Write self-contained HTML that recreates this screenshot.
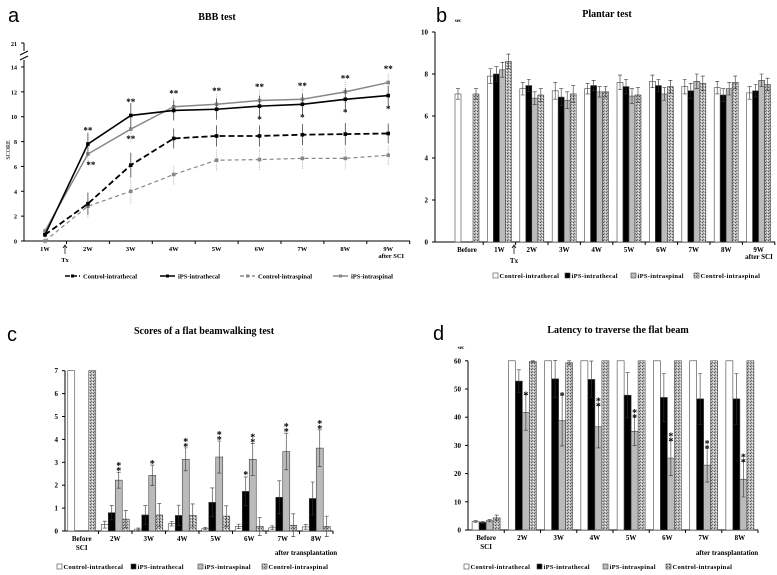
<!DOCTYPE html>
<html><head><meta charset="utf-8"><style>
body{margin:0;background:#fff}
svg{display:block;font-family:"Liberation Serif",serif;font-weight:bold}
.lt{font-family:"Liberation Sans",sans-serif;font-weight:normal}
</style></head><body>
<svg id="fig" width="777" height="575" viewBox="0 0 777 575" xmlns="http://www.w3.org/2000/svg">
<defs>
<pattern id="pat" width="3" height="3" patternUnits="userSpaceOnUse"><rect width="3" height="3" fill="#bbb"/><rect width="1" height="1" fill="#555"/><rect x="2" y="1" width="1" height="1" fill="#eee"/><rect x="1" y="2" width="1" height="1" fill="#777"/></pattern>
</defs>
<g id="pa"></g>
<g id="pb"></g>
<g id="pc"></g>
<g id="pd"></g>
</svg>
<script>
// Panel a data
const aCats = ["1W","2W","3W","4W","5W","6W","7W","8W","9W"];
const aYTicks = [0,2,4,6,8,10,12,14];
const aCtrlTh = [0.5,3.0,6.1,8.25,8.45,8.45,8.55,8.6,8.65];
const aIpsTh = [0.5,7.8,10.1,10.5,10.6,10.85,11.0,11.4,11.7];
const aCtrlSp = [0.0,2.8,4.0,5.35,6.5,6.55,6.65,6.65,6.9];
const aIpsSp = [0.8,7.0,9.0,10.8,11.0,11.3,11.4,12.0,12.75];
const aErr = [0.2,0.9,1.0,0.8,0.85,0.85,0.85,0.9,0.8];
// Panel b data
const bCats = ["Before","1W","2W","3W","4W","5W","6W","7W","8W","9W"];
const bYTicks = [0,2,4,6,8,10];
const bCtrlTh = [7.05,7.9,7.3,7.2,7.3,7.6,7.65,7.4,7.35,7.1];
const bIpsTh = [null,8.0,7.45,6.9,7.45,7.4,7.45,7.2,7.0,7.2];
const bIpsSp = [null,8.2,6.85,6.75,7.15,6.95,7.05,7.65,7.3,7.7];
const bCtrlSp = [7.05,8.6,7.0,7.05,7.15,7.0,7.4,7.55,7.6,7.5];
const bErr = [0.25,0.35,0.3,0.4,0.25,0.35,0.3,0.35,0.3,0.3];
// Panel c data
const cCats = ["Before","2W","3W","4W","5W","6W","7W","8W"];
const cYTicks = [0,1,2,3,4,5,6,7];
const cCtrlTh = [7,0.28,0.08,0.32,0.1,0.2,0.14,0.18];
const cIpsTh = [null,0.8,0.7,0.68,1.25,1.73,1.47,1.42];
const cIpsSp = [null,2.22,2.43,3.13,3.23,3.13,3.47,3.62];
const cCtrlSp = [7,0.52,0.7,0.68,0.65,0.2,0.25,0.2];
const cErrIps = [0,0.35,0.45,0.5,0.7,0.7,0.8,0.8];
const cErrSp = [0,0.38,0.5,0.5,0.45,0.4,0.5,0.45];
// Panel d data
const dCats = ["Before","2W","3W","4W","5W","6W","7W","8W"];
const dYTicks = [0,10,20,30,40,50,60];
const dCtrlTh = [3.0,60,60,60,60,60,60,60];
const dIpsTh = [2.7,52.8,53.6,53.4,47.8,47,46.5,46.5];
const dIpsSp = [3.3,41.7,38.8,36.6,35,25.5,23,18];
const dCtrlSp = [4.3,59.7,59.3,60,60,60,60,60];
const dErrIps = [0.3,4,6.5,6.5,8,8.5,9,9];
const dErrSp = [0.4,6.3,9,7.5,5,6.2,6,6.3];

const NS="http://www.w3.org/2000/svg";
function mk(p,tag,at,txt){const e=document.createElementNS(NS,tag);for(const k in at)e.setAttribute(k,at[k]);if(txt!==undefined)e.textContent=txt;p.appendChild(e);return e;}
function txt(p,x,y,s,size,anchor,name,cls){const t=mk(p,'text',{x:x,y:y,'font-size':size,'text-anchor':anchor||'middle'},s);if(cls)t.setAttribute('class',cls);


return t;}

/* ---------- Panel A ---------- */
(function(){
const g=document.getElementById('pa');
const x0=24,x1=410,y0=241,ppu=12.43;
const X=i=>45+i*42.9, Y=v=>y0-v*ppu;
txt(g,8,22,'a',20,'start','panel-letter-a','lt');
txt(g,217,20,'BBB test',10,'middle','title-a');
mk(g,'line',{x1:x0,y1:y0,x2:x1,y2:y0,stroke:'#000'});
mk(g,'line',{x1:x0,y1:y0,x2:x0,y2:60,stroke:'#000'});
mk(g,'line',{x1:x0,y1:51,x2:x0,y2:43,stroke:'#000'});
mk(g,'path',{d:'M20 60 l8 -4 M20 55 l8 -4',stroke:'#000',fill:'none'});
mk(g,'line',{x1:x0-3,y1:43,x2:x0,y2:43,stroke:'#000'});
txt(g,17,46,'21',6,'end','y-tick-21');
aYTicks.forEach(v=>{mk(g,'line',{x1:x0-3,y1:Y(v),x2:x0,y2:Y(v),stroke:'#000'});txt(g,17,Y(v)+2.5,String(v),6,'end','y-tick');});
aCats.forEach((c,i)=>{txt(g,X(i),251,c,6.5,'middle','x-tick');mk(g,'line',{x1:X(i)+21.5,y1:y0,x2:X(i)+21.5,y2:y0+3,stroke:'#000'});});
txt(g,X(8)+3,258,'after SCI',6.5,'middle','x-after-sci');
mk(g,'line',{x1:65,y1:246,x2:65,y2:254,stroke:'#000','stroke-width':0.7});
mk(g,'path',{d:'M63 248 L65 245 L67 248',fill:'none',stroke:'#000','stroke-width':0.7});
txt(g,65,262,'Tx',6.5,'middle','tx-label');
const ya=mk(g,'text',{x:10,y:150,'font-size':6,'text-anchor':'middle',transform:'rotate(-90 10 150)','font-weight':'normal'},'SCORE');


const series=[[aCtrlSp,'#888','4 3',1.2,'control-intraspinal'],[aCtrlTh,'#000','6 3',1.8,'control-intrathecal'],[aIpsSp,'#888','',1.5,'ips-intraspinal'],[aIpsTh,'#000','',1.6,'ips-intrathecal']];
series.forEach(([d,col,da,w,nm])=>{
 d.forEach((v,i)=>{mk(g,'line',{x1:X(i),y1:Y(v-aErr[i]),x2:X(i),y2:Y(v+aErr[i]),stroke:col==='#000'?'#444':'#aaa','stroke-width':0.8,'stroke-dasharray':col==='#888'?'1 1':''});});
 const pl=mk(g,'polyline',{points:d.map((v,i)=>X(i)+','+Y(v)).join(' '),fill:'none',stroke:col,'stroke-width':w,'stroke-dasharray':da});
 
 
 d.forEach((v,i)=>{const m=mk(g,'rect',{x:X(i)-1.8,y:Y(v)-1.8,width:3.6,height:3.6,fill:col});
 
 });
});
for(let i=1;i<9;i++){const top=Math.max(aIpsTh[i],aIpsSp[i])+1.0;txt(g,X(i),Y(top)+2,'**',9,'middle','sig-star');}
txt(g,X(1)+3,Y(6.2)+4,'**',9,'middle','sig-star');txt(g,X(2),Y(8.3)+4,'**',9,'middle','sig-star');
[5,6,7,8].forEach(i=>txt(g,X(i),Y(aIpsTh[i]-0.9)+5,'*',9,'middle','sig-star'));
const lg=[[65,'#000','5 2','Control-intrathecal'],[160,'#000','','iPS-intrathecal'],[240,'#888','4 2','Control-intraspinal'],[333,'#888','','iPS-intraspinal']];
lg.forEach(([x,col,da,s])=>{mk(g,'line',{x1:x,y1:276,x2:x+15,y2:276,stroke:col,'stroke-width':1.5,'stroke-dasharray':da});mk(g,'rect',{x:x+6,y:274.5,width:3,height:3,fill:col});txt(g,x+18,278.5,s,6.5,'start','legend-entry');});
})();

/* ---------- Generic bar chart ---------- */
function barChart(g,o){
 const Y=v=>o.y0-v*o.ppu;
 const slot=o.slot||(o.x1-o.xa)/o.cats.length;
 const start=o.start!==undefined?o.start:o.xa+slot*0.5;
 const X=i=>start+slot*i;
 mk(g,'line',{x1:o.xa,y1:o.y0,x2:o.x1,y2:o.y0,stroke:'#000'});
 mk(g,'line',{x1:o.xa,y1:o.y0,x2:o.xa,y2:Y(o.ticks[o.ticks.length-1]),stroke:'#000'});
 o.ticks.forEach(v=>{mk(g,'line',{x1:o.xa-3,y1:Y(v),x2:o.xa,y2:Y(v),stroke:'#000'});txt(g,o.xa-7,Y(v)+2.5,String(v),7,'end','y-tick');});
 o.cats.forEach((c,i)=>{mk(g,'line',{x1:X(i)+slot/2,y1:o.y0,x2:X(i)+slot/2,y2:o.y0+3,stroke:'#000'});
   const lines=c.split('\n');lines.forEach((l,k)=>txt(g,X(i),o.y0+10+k*9,l,7,'middle','x-tick'));});
 const fills=['#fff','#000','#bbb','url(#pat)'];
 const names=['control-intrathecal','ips-intrathecal','ips-intraspinal','control-intraspinal'];
 const bw=o.bw;
 o.series.forEach((d,s)=>{d.forEach((v,i)=>{if(v===null)return;
   const bx=X(i)+(s-2)*bw;
   const r=mk(g,'rect',{x:bx,y:Y(v),width:bw,height:v*o.ppu,fill:fills[s],stroke:'#444','stroke-width':0.6});
   
   
   const e=o.errs[s]?o.errs[s][i]:0;
   if(e>0){const cx=bx+bw/2;mk(g,'path',{d:`M${cx} ${Y(v-e)} V${Y(v+e)} M${cx-2} ${Y(v+e)} h4 M${cx-2} ${Y(v-e)} h4`,stroke:'#333','stroke-width':0.6,fill:'none'});}
 });});
 let lx=o.legX;
 ['Control-intrathecal','iPS-intrathecal','iPS-intraspinal','Control-intraspinal'].forEach((s,k)=>{
   mk(g,'rect',{x:lx,y:o.legY-5,width:5,height:5,fill:fills[k],stroke:'#444','stroke-width':0.6});
   const t=txt(g,lx+6.5,o.legY,s,6.5,'start','legend-entry');t.setAttribute('letter-spacing','0.3');
   lx+=o.legW[k];});
 return {X,Y,bw};
}

/* ---------- Panel B ---------- */
(function(){
const g=document.getElementById('pb');
txt(g,436,22,'b',20,'start','panel-letter-b','lt');
txt(g,607,17,'Plantar test',10,'middle','title-b');
txt(g,458,22,'sec',5,'middle','y-unit-b');
barChart(g,{xa:435,x1:775,y0:242,ppu:21,cats:bCats,ticks:bYTicks,bw:6,start:467,slot:32.4,series:[bCtrlTh,bIpsTh,bIpsSp,bCtrlSp],errs:[bErr,bErr,bErr,bErr],legX:493,legY:278,legW:[72,66,63,70]});
txt(g,759,259,'after SCI',7,'middle','x-after-sci-b');
mk(g,'path',{d:'M514 246 V254 M512 248 L514 245 L516 248',stroke:'#000','stroke-width':0.7,fill:'none'});
txt(g,514,263,'Tx',7,'middle','tx-label-b');
})();

/* ---------- Panel C ---------- */
(function(){
const g=document.getElementById('pc');
txt(g,7,341,'c',20,'start','panel-letter-c','lt');
txt(g,204,334,'Scores of a flat beamwalking test',10,'middle','title-c');
const r=barChart(g,{xa:65,x1:333,y0:531,ppu:22.9,cats:["Before\nSCI","2W","3W","4W","5W","6W","7W","8W"],ticks:cYTicks,bw:7,series:[cCtrlTh,cIpsTh,cIpsSp,cCtrlSp],errs:[[0,0.15,0.05,0.1,0.05,0.1,0.08,0.1],cErrIps.map(v=>v*0.9),cErrIps,cErrSp],legX:57,legY:569,legW:[74,67,64,70]});
txt(g,306,555,'after transplantation',7,'middle','x-after-transplant-c');
for(let i=1;i<8;i++){const two=i!==2;const x=r.X(i)+r.bw/2;const top=r.Y(cIpsSp[i]+cErrIps[i])-2;
 txt(g,x,top+4,'*',10,'middle','sig-star');if(two)txt(g,x,top-1,'*',10,'middle','sig-star');}
txt(g,r.X(5)-r.bw/2,r.Y(cIpsTh[5]+0.75)+4,'*',10,'middle','sig-star');
})();

/* ---------- Panel D ---------- */
(function(){
const g=document.getElementById('pd');
txt(g,433,340,'d',20,'start','panel-letter-d','lt');
txt(g,618,333,'Latency to traverse the flat beam',10,'middle','title-d');
txt(g,461,349,'sec',5,'middle','y-unit-d');
const r=barChart(g,{xa:468,x1:758,y0:530,ppu:2.82,cats:["Before\nSCI","2W","3W","4W","5W","6W","7W","8W"],ticks:dYTicks,bw:7,series:[dCtrlTh,dIpsTh,dIpsSp,dCtrlSp],errs:[[0.3,0,0,0,0,0,0,0],dErrIps,dErrSp,[1,0.3,0.7,0,0,0,0,0]],legX:464,legY:569,legW:[73,66,63,70]});
txt(g,727,555,'after transplantation',7,'middle','x-after-transplant-d');
for(let i=1;i<8;i++){const x=r.X(i)+r.bw/2;const top=r.Y(dIpsSp[i]+dErrSp[i]);
 txt(g,x,top+4,'*',10,'middle','sig-star');if(i>2)txt(g,x,top-1,'*',10,'middle','sig-star');}
})();
</script>
</body></html>
